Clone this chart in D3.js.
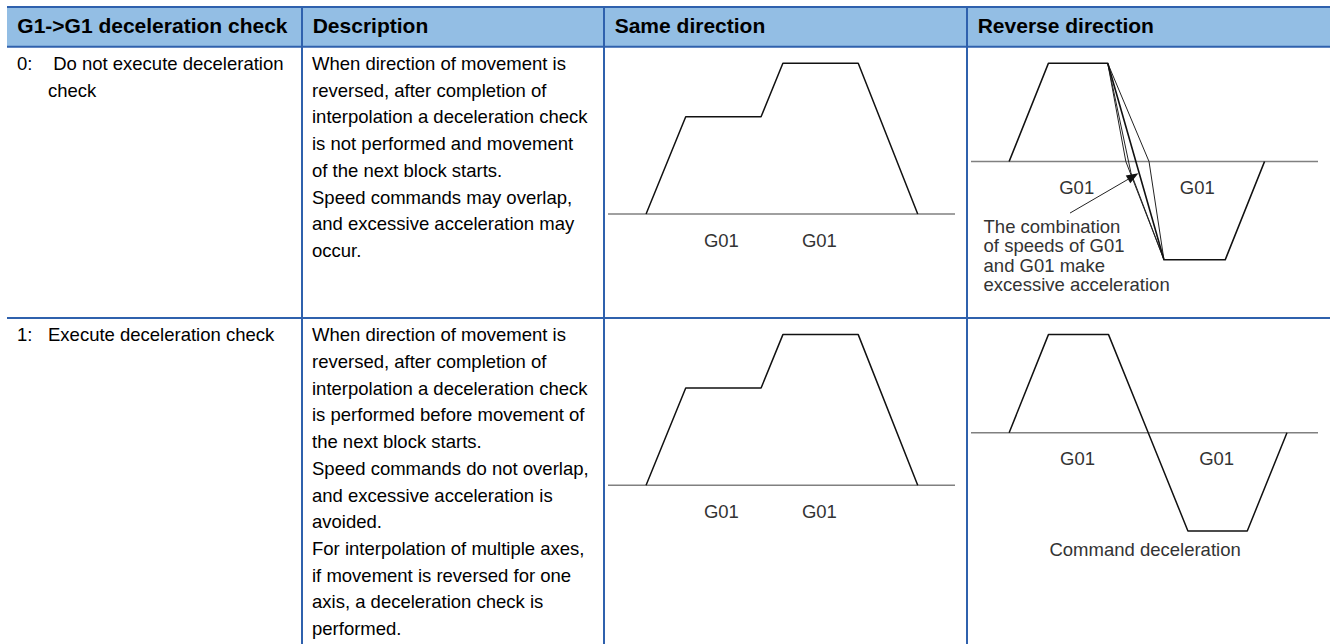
<!DOCTYPE html>
<html><head><meta charset="utf-8">
<script src="https://cdn.jsdelivr.net/npm/d3@7"></script>
<style>html,body{margin:0;padding:0;background:#fff;} svg{display:block;}</style>
</head><body><svg id="c" width="1332" height="644"></svg>
<script>
// ---------- data ----------
const headers = ["G1->G1 deceleration check", "Description", "Same direction", "Reverse direction"];
const settingNo = ["0:", "1:"];
const settingText = [[" Do not execute deceleration", "check"], ["Execute deceleration check"]];
const descriptions = [
  ["When direction of movement is", "reversed, after completion of", "interpolation a deceleration check",
   "is not performed and movement", "of the next block starts.", "Speed commands may overlap,",
   "and excessive acceleration may", "occur."],
  ["When direction of movement is", "reversed, after completion of", "interpolation a deceleration check",
   "is performed before movement of", "the next block starts.", "Speed commands do not overlap,",
   "and excessive acceleration is", "avoided.", "For interpolation of multiple axes,",
   "if movement is reversed for one", "axis, a deceleration check is", "performed."]
];
// same direction speed profile (time, speed)
const sameTimes  = [0, 1, 2.9, 3.45, 5.35, 6.85];
const sameSpeeds = [0, 1, 1, 1.55, 1.55, 0];
const sameLabels = ["G01", "G01"];
const sameLabelTimes = [1.9, 4.37];
const sameLabelSpeed = -0.27;
// reverse direction, no deceleration check
const revNoTimes  = [0, 1, 2.51, 3.94, 5.5, 6.5];
const revNoSpeeds = [0, 1, 1, -1, -1, 0];
const fanKinkTimes  = [2.97, 3.1, 3.56];
const fanKinkSpeeds = [0, -0.115, 0];
const revNoLabelTimes = [1.72, 4.79];
const arrowTimes  = [1.55, 3.29];
const arrowSpeeds = [-0.525, -0.12];
const noteLines = ["The combination", "of speeds of G01", "and G01 make", "excessive acceleration"];
const noteTime = -0.65, noteSpeed = -0.66;
// reverse direction, deceleration check
const revChkTimes  = [0, 1, 2.53, 3.54, 4.55, 6.06, 7.07];
const revChkSpeeds = [0, 1, 1, 0, -1, -1, 0];
const revChkLabelTimes = [1.74, 5.28];
const revLabelSpeed = -0.26;
const checkNote = "Command deceleration";
const checkNoteTime = 3.46, checkNoteSpeed = -1.19;
const sameDomainT = [-0.96, 7.79], revDomainT = [-0.97, 7.86];

// ---------- layout ----------
const colX = [7, 302, 604, 967, 1330];
const headTop = 7, headBot = 46.7;
const rowTop = [46.7, 318];
const blue = "#2f61ad", headFill = "#93bee4";
const bodyFont = "Arial, 'Liberation Sans', sans-serif";

const svg = d3.select("#c");
svg.append("rect").attr("x", colX[0]).attr("y", headTop).attr("width", colX[4]-colX[0])
  .attr("height", headBot-headTop).attr("fill", headFill);

// header text
svg.selectAll("text.h").data(headers).join("text").attr("class","h")
  .attr("x", (d,i) => i === 0 ? colX[i] + 10.3 : colX[i] + 10.7).attr("y", 33.3)
  .attr("font-family", bodyFont).attr("font-weight", "bold").attr("font-size", 21)
  .attr("fill", "#000").text(d => d);

// body text
const lh = 26.7;
rowTop.forEach((top, r) => {
  const b0 = top + 23.3;
  svg.append("text").attr("x", 17).attr("y", b0).attr("font-family", bodyFont)
    .attr("font-size", 18.5).attr("fill", "#000").text(settingNo[r]);
  svg.selectAll("text.s" + r).data(settingText[r]).join("text").attr("class", "s" + r)
    .attr("x", 48).attr("y", (d,i) => b0 + i*lh).attr("xml:space", "preserve")
    .style("white-space", "pre")
    .attr("font-family", bodyFont).attr("font-size", 18.5).attr("fill", "#000").text(d => d);
  svg.selectAll("text.d" + r).data(descriptions[r]).join("text").attr("class", "d" + r)
    .attr("x", colX[1] + 10).attr("y", (d,i) => b0 + i*lh)
    .attr("font-family", bodyFont).attr("font-size", 18.5).attr("fill", "#000").text(d => d);
});

// ---------- diagrams ----------
const lineGen = (xs, ys) => d3.line().x(d => xs(d[0])).y(d => ys(d[1]));
const zip = (a, b) => a.map((v,i) => [v, b[i]]);
const labelFont = 18.5, labelColor = "#333";

function baseline(g, xs, ys, dom) {
  g.append("line").attr("x1", xs(dom[0])).attr("x2", xs(dom[1]))
    .attr("y1", ys(0)).attr("y2", ys(0)).attr("stroke", "#808080").attr("stroke-width", 1.5);
}
function labels(g, xs, ys, texts, times, sp) {
  g.selectAll("text.lab").data(texts).join("text").attr("class","lab")
    .attr("x", (d,i) => xs(times[i])).attr("y", ys(sp)).attr("text-anchor","middle")
    .attr("dominant-baseline","central").attr("font-family", bodyFont)
    .attr("font-size", labelFont).attr("fill", labelColor).text(d => d);
}

rowTop.forEach((top, r) => {
  // same direction
  const g = svg.append("g");
  const xs = d3.scaleLinear().domain(sameDomainT).range([colX[2] + 4, colX[3] - 12]);
  const ys = d3.scaleLinear().domain([0, 1.55]).range([top + 167.3, top + 16.6]);
  baseline(g, xs, ys, sameDomainT);
  g.append("path").attr("d", lineGen(xs, ys)(zip(sameTimes, sameSpeeds)))
    .attr("fill","none").attr("stroke","#111").attr("stroke-width",1.5).attr("stroke-linejoin","round");
  labels(g, xs, ys, sameLabels, sameLabelTimes, sameLabelSpeed);

  // reverse direction
  const g2 = svg.append("g");
  const xr = d3.scaleLinear().domain(revDomainT).range([colX[3] + 4, colX[4] - 12]);
  const yr = d3.scaleLinear().domain([-1, 1]).range([top + 213, top + 16.6]);
  baseline(g2, xr, yr, revDomainT);
  if (r === 0) {
    const T = [revNoTimes[2], revNoSpeeds[2]], B = [revNoTimes[3], revNoSpeeds[3]];
    fanKinkTimes.forEach((t, i) => {
      g2.append("path").attr("d", lineGen(xr, yr)([T, [t, fanKinkSpeeds[i]], B]))
        .attr("fill","none").attr("stroke","#222").attr("stroke-width",1).attr("stroke-linejoin","round");
    });
    g2.append("path").attr("d", lineGen(xr, yr)(zip(revNoTimes, revNoSpeeds)))
      .attr("fill","none").attr("stroke","#111").attr("stroke-width",1.6).attr("stroke-linejoin","round");
    labels(g2, xr, yr, ["G01","G01"], revNoLabelTimes, revLabelSpeed);
    // arrow
    const x1 = xr(arrowTimes[0]), y1 = yr(arrowSpeeds[0]), x2 = xr(arrowTimes[1]), y2 = yr(arrowSpeeds[1]);
    const ang = Math.atan2(y2 - y1, x2 - x1), L = 12, W = 4.5;
    const bx = x2 - L*Math.cos(ang), by = y2 - L*Math.sin(ang);
    g2.append("line").attr("x1", x1).attr("y1", y1).attr("x2", bx).attr("y2", by)
      .attr("stroke","#222").attr("stroke-width",1);
    g2.append("path").attr("d", `M${x2},${y2}L${bx - W*Math.sin(ang)},${by + W*Math.cos(ang)}L${bx + W*Math.sin(ang)},${by - W*Math.cos(ang)}Z`)
      .attr("fill","#111");
    g2.selectAll("text.note").data(noteLines).join("text").attr("class","note")
      .attr("x", xr(noteTime)).attr("y", (d,i) => yr(noteSpeed) + i*19.5)
      .attr("dominant-baseline","central").attr("font-family", bodyFont)
      .attr("font-size", labelFont).attr("fill", labelColor).text(d => d);
  } else {
    g2.append("path").attr("d", lineGen(xr, yr)(zip(revChkTimes, revChkSpeeds)))
      .attr("fill","none").attr("stroke","#111").attr("stroke-width",1.5).attr("stroke-linejoin","round");
    labels(g2, xr, yr, ["G01","G01"], revChkLabelTimes, revLabelSpeed);
    g2.append("text").attr("x", xr(checkNoteTime)).attr("y", yr(checkNoteSpeed))
      .attr("text-anchor","middle").attr("dominant-baseline","central").attr("font-family", bodyFont)
      .attr("font-size", labelFont).attr("fill", labelColor).text(checkNote);
  }
});

// ---------- grid lines ----------
[headTop, headBot, rowTop[1]].forEach(y => {
  svg.append("line").attr("x1", colX[0]).attr("x2", colX[4]).attr("y1", y).attr("y2", y)
    .attr("stroke", blue).attr("stroke-width", 2);
});
[colX[1], colX[2], colX[3]].forEach(x => {
  svg.append("line").attr("x1", x).attr("x2", x).attr("y1", headTop - 1).attr("y2", 644)
    .attr("stroke", blue).attr("stroke-width", 2);
});
</script>
</body></html>
